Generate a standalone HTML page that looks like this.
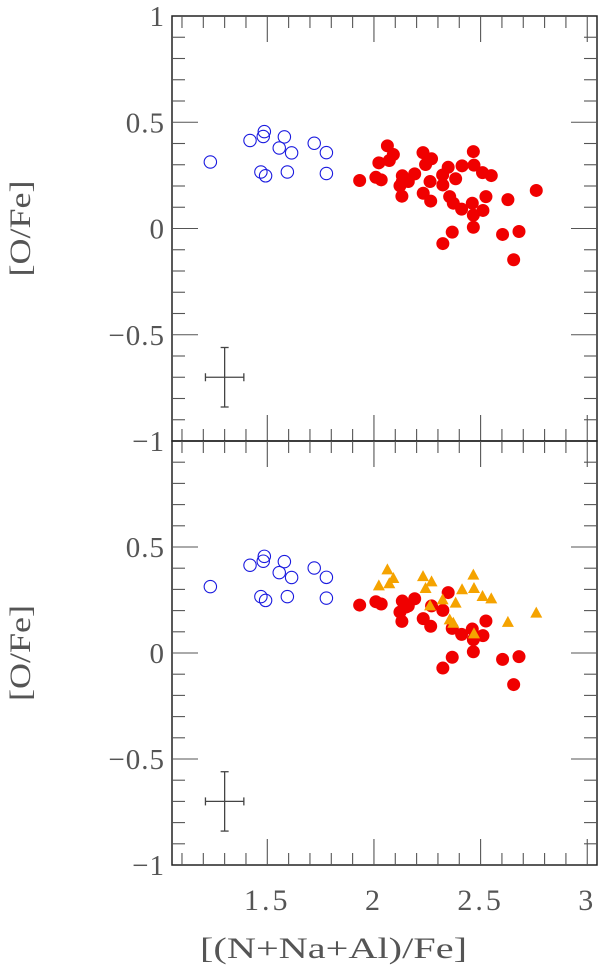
<!DOCTYPE html>
<html><head><meta charset="utf-8"><style>
html,body{margin:0;padding:0;background:#fff;}
svg{display:block;font-family:"Liberation Serif",serif;}
</style></head><body>
<svg id="chart" width="600" height="971" viewBox="0 0 600 971" xmlns="http://www.w3.org/2000/svg"></svg>
<script>
const xTicks=[1.5,2,2.5,3];
const xTickLabels=["1.5","2","2.5","3"];
const yTicks=[1,0.5,0,-0.5,-1];
const yTickLabels=["1","0.5","0","\u22120.5","\u22121"];
const blueX=[1.233,1.419,1.486,1.481,1.580,1.556,1.614,1.720,1.777,1.470,1.492,1.594,1.777];
const blueY=[0.313,0.414,0.456,0.433,0.431,0.379,0.356,0.401,0.357,0.266,0.248,0.266,0.259];
const redTopX=[1.933,2.009,2.034,2.023,2.063,2.091,2.072,2.133,2.191,2.161,2.122,2.131,2.230,2.270,2.242,2.263,2.231,2.266,2.322,2.348,2.413,2.466,2.469,2.509,2.550,2.323,2.383,2.355,2.372,2.411,2.461,2.511,2.525,2.466,2.466,2.367,2.323,2.628,2.603,2.680,2.655,2.761,2.133,2.153];
const redTopY=[0.226,0.241,0.229,0.309,0.389,0.348,0.320,0.248,0.257,0.221,0.201,0.152,0.357,0.328,0.301,0.221,0.166,0.129,0.252,0.288,0.295,0.362,0.298,0.263,0.249,0.205,0.234,0.150,0.119,0.091,0.119,0.085,0.150,0.063,0.006,-0.017,-0.071,0.136,-0.028,-0.014,-0.147,0.179,0.221,0.229];
const redBotX=[1.933,2.009,2.034,2.133,2.191,2.161,2.122,2.131,2.231,2.266,2.270,2.323,2.348,2.367,2.411,2.461,2.511,2.525,2.466,2.466,2.367,2.323,2.603,2.680,2.655,2.150];
const redBotY=[0.226,0.242,0.231,0.245,0.256,0.222,0.193,0.149,0.162,0.126,0.222,0.201,0.285,0.116,0.088,0.113,0.082,0.151,0.063,0.006,-0.020,-0.071,-0.030,-0.017,-0.149,0.217];
const triX=[2.063,2.091,2.072,2.023,2.230,2.270,2.242,2.466,2.413,2.469,2.509,2.550,2.322,2.383,2.263,2.355,2.372,2.469,2.628,2.761];
const triY=[0.390,0.349,0.324,0.314,0.358,0.333,0.302,0.365,0.296,0.302,0.264,0.253,0.248,0.233,0.220,0.154,0.138,0.088,0.142,0.186];
const errX=[1.3],errY=[-0.7],errDX=[0.09],errDY=[0.14];

const NS="http://www.w3.org/2000/svg";
const svg=document.getElementById('chart');
const L=172,R=597;
const xScale=213.3;
function sx(v){return 267.3+(v-1.5)*xScale;}
const panels=[{top:16,bot:441,name:'top'},{top:441,bot:865,name:'bottom'}];
function mk(tag,attrs,parent){const e=document.createElementNS(NS,tag);for(const k in attrs)e.setAttribute(k,attrs[k]);(parent||svg).appendChild(e);return e;}
function makeSy(p){return v=>p.bot-(v+1)/2*(p.bot-p.top);}
const TXT='#555';

panels.forEach((p,pi)=>{
  const sy=makeSy(p);
  const g=mk('g',{});
  
  
  const frame=mk('rect',{x:L,y:p.top,width:R-L,height:p.bot-p.top,fill:'none',stroke:'#222','stroke-width':1.5},g);
  
  
  const ax=mk('g',{stroke:'#555','stroke-width':1.1},g);
  
  
  for(let i=11;i<=30;i++){const v=i/10;const x=sx(v);const major=(i%5===0);const len=major?26:12;
    mk('line',{x1:x,y1:p.bot,x2:x,y2:p.bot-len},ax);
    mk('line',{x1:x,y1:p.top,x2:x,y2:p.top+len},ax);}
  for(let i=-9;i<=9;i++){const v=i/10;const y=sy(v);const major=(i%5===0);const len=major?26:13;
    mk('line',{x1:L,y1:y,x2:L+len,y2:y},ax);
    mk('line',{x1:R,y1:y,x2:R-len,y2:y},ax);}
  yTicks.forEach((v,i)=>{
    if(pi===0||v<1){
      const t=mk('text',{x:165,y:sy(v)+10,'text-anchor':'end','font-size':29,fill:TXT,'letter-spacing':1},g);
      t.textContent=yTickLabels[i];
      
      
    }
  });
  const yc=(p.top+p.bot)/2;
  const yt=mk('text',{x:0,y:0,transform:`translate(30,${yc}) rotate(-90)`,'text-anchor':'middle','font-size':30,fill:TXT,textLength:96,lengthAdjust:'spacingAndGlyphs'},g);
  yt.textContent='[O/Fe]';
  
  
  const eb=mk('g',{stroke:'#444','stroke-width':1.3},g);
  
  
  const ex=sx(errX[0]),ey=sy(errY[0]);
  const x1=sx(errX[0]-errDX[0]),x2=sx(errX[0]+errDX[0]),y1=sy(errY[0]+errDY[0]),y2=sy(errY[0]-errDY[0]);
  mk('line',{x1:x1,y1:ey,x2:x2,y2:ey},eb);mk('line',{x1:ex,y1:y1,x2:ex,y2:y2},eb);
  mk('line',{x1:x1,y1:ey-4,x2:x1,y2:ey+4},eb);mk('line',{x1:x2,y1:ey-4,x2:x2,y2:ey+4},eb);
  mk('line',{x1:ex-4,y1:y1,x2:ex+4,y2:y1},eb);mk('line',{x1:ex-4,y1:y2,x2:ex+4,y2:y2},eb);
  blueX.forEach((v,i)=>{
    const c=mk('circle',{cx:sx(v),cy:sy(blueY[i]),r:6.2,fill:'none',stroke:'#1a1adf','stroke-width':1.1},g);
    
    
  });
  const rx=pi===0?redTopX:redBotX, ry=pi===0?redTopY:redBotY;
  rx.forEach((v,i)=>{
    const c=mk('circle',{cx:sx(v),cy:sy(ry[i]),r:6.5,fill:'#f00000'},g);
    
    
  });
  if(pi===1){
    triX.forEach((v,i)=>{
      const x=sx(v),y=sy(triY[i]);
      const t=mk('polygon',{points:`${x},${y-7} ${x-6},${y+4} ${x+6},${y+4}`,fill:'#f5a300'},g);
      
      
    });
  }
});
xTicks.forEach((v,i)=>{
  const t=mk('text',{x:sx(v),y:910,'text-anchor':'middle','font-size':30,fill:TXT,'letter-spacing':3});
  t.textContent=xTickLabels[i];
  
  
});
const xt=mk('text',{x:200,y:958,'font-size':30,fill:TXT,textLength:267,lengthAdjust:'spacingAndGlyphs'});
xt.textContent='[(N+Na+Al)/Fe]';


</script>
</body></html>
